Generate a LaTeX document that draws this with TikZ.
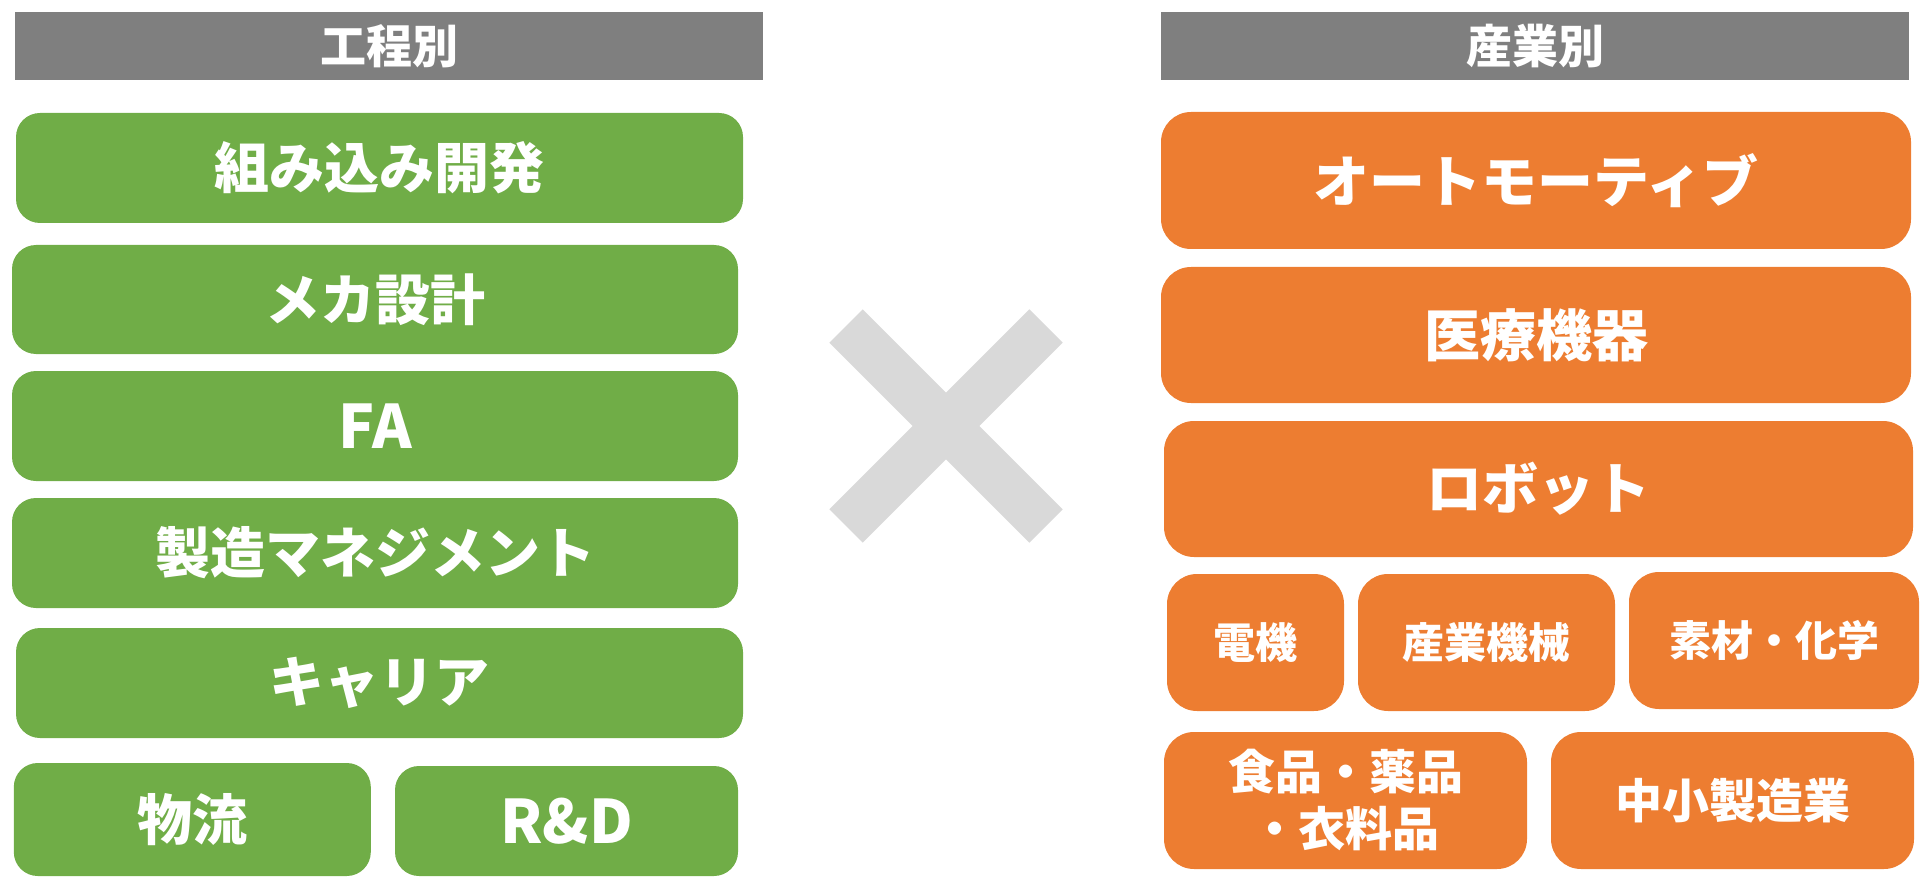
\documentclass[tikz,border=0pt]{standalone}
\usepackage{fontspec}
\setmainfont{Noto Sans CJK JP}
\definecolor{hdrgray}{HTML}{7F7F7F}
\definecolor{boxgreen}{HTML}{70AD47}
\definecolor{boxorange}{HTML}{ED7D31}
\definecolor{xgray}{HTML}{D9D9D9}
\tikzset{
  hdr/.style={fill=hdrgray, text=white, inner sep=0pt, font=\fontsize{46pt}{55pt}\selectfont\bfseries},
  gbox/.style={fill=boxgreen, text=white, rounded corners=24pt, inner sep=0pt, font=\fontsize{55pt}{66pt}\selectfont\bfseries},
  obox/.style={fill=boxorange, text=white, rounded corners=30pt, inner sep=0pt, font=\fontsize{56pt}{66pt}\selectfont\bfseries},
  osmall/.style={obox, font=\fontsize{42pt}{50pt}\selectfont\bfseries},
  omid/.style={obox, font=\fontsize{47pt}{57pt}\selectfont\bfseries, align=center},
  latinbig/.style={font=\fontsize{60pt}{70pt}\selectfont\bfseries},
  crossmark/.style={fill=xgray}
}
\begin{document}
\begin{tikzpicture}[x=1pt, y=-1pt]
\useasboundingbox (0,0) rectangle (1921,877);
% Left column
\node[hdr, minimum width=748.5pt, minimum height=68pt] (hdrL) at (389,46) {工程別};
\node[gbox, minimum width=727pt, minimum height=110pt] (g1) at (379.5,168) {組み込み開発};
\node[gbox, minimum width=726pt, minimum height=109pt] (g2) at (375,299.5) {メカ設計};
\node[gbox, latinbig, minimum width=726pt, minimum height=110pt] (g3) at (375,426) {FA};
\node[gbox, minimum width=726pt, minimum height=110pt] (g4) at (375,553) {製造マネジメント};
\node[gbox, minimum width=727pt, minimum height=110pt] (g5) at (379.5,683) {キャリア};
\node[gbox, minimum width=357pt, minimum height=113pt] (g6) at (192.3,819.5) {物流};
\node[gbox, latinbig, minimum width=343pt, minimum height=110pt] (g7) at (566.5,821) {R\&D};
% Cross
\fill[crossmark] (946,392.7) -- (1029.3,309.3) -- (1062.7,342.7) -- (979.3,426)
  -- (1062.7,509.3) -- (1029.3,542.7) -- (946,459.3) -- (862.7,542.7)
  -- (829.3,509.3) -- (912.7,426) -- (829.3,342.7) -- (862.7,309.3) -- cycle;
% Right column
\node[hdr, minimum width=748pt, minimum height=68pt] (hdrR) at (1535,46) {産業別};
\node[obox, minimum width=750pt, minimum height=137pt] (o1) at (1536,180.5) {オートモーティブ};
\node[obox, minimum width=750pt, minimum height=136pt] (o2) at (1536,335) {医療機器};
\node[obox, minimum width=749pt, minimum height=136pt] (o3) at (1538.5,489) {ロボット};
\node[osmall, minimum width=177pt, minimum height=137pt] (o4) at (1255.5,642.5) {電機};
\node[osmall, minimum width=257pt, minimum height=137pt] (o5) at (1486.5,642.5) {産業機械};
\node[osmall, minimum width=290pt, minimum height=137pt] (o6) at (1774,640.5) {素材・化学};
\node[omid, minimum width=363pt, minimum height=137pt] (o7) at (1345.5,800.5) {食品・薬品\\・衣料品};
\node[omid, minimum width=363pt, minimum height=137pt] (o8) at (1732.5,800.5) {中小製造業};
\end{tikzpicture}
\end{document}
